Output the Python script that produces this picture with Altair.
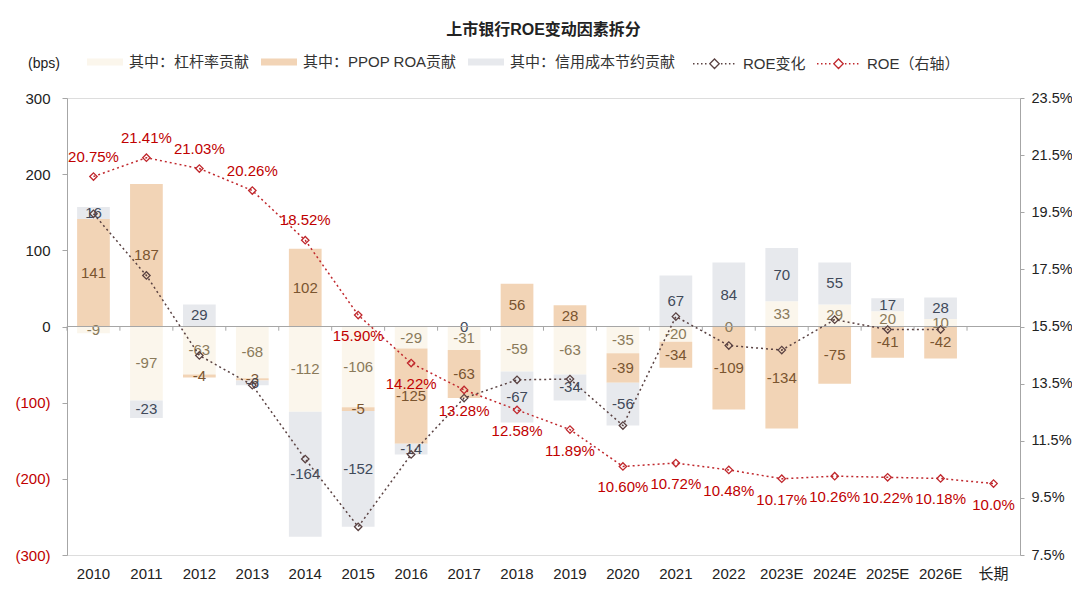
import altair as alt
import pandas as pd

FONT = "Liberation Sans, Noto Sans CJK SC"

cats = ['2010', '2011', '2012', '2013', '2014', '2015', '2016', '2017', '2018',
        '2019', '2020', '2021', '2022', '2023E', '2024E', '2025E', '2026E', '长期']
bar_cats = cats[:17]

series_names = ['其中：杠杆率贡献', '其中：PPOP ROA贡献', '其中：信用成本节约贡献']
line_names = ['ROE变化', 'ROE（右轴）']

lev = [-9, -97, -63, -68, -112, -106, -29, -31, -59, -63, -35, -20, 0, 33, 29, 20, 10]
ppop = [141, 187, -4, -3, 102, -5, -125, -63, 56, 28, -39, -34, -109, -134, -75, -41, -42]
credit = [16, -23, 29, -6, -164, -152, -14, 0, -67, -34, -56, 67, 84, 70, 55, 17, 28]
roe_chg = [148, 67, -38, -77, -174, -263, -168, -94, -70, -69, -130, 13, -25, -31, 9, -4, -4]
roe = [20.75, 21.41, 21.03, 20.26, 18.52, 15.90, 14.22, 13.28, 12.58, 11.89, 10.60,
       10.72, 10.48, 10.17, 10.26, 10.22, 10.18, 10.0]
roe_labels = ['20.75%', '21.41%', '21.03%', '20.26%', '18.52%', '15.90%', '14.22%',
              '13.28%', '12.58%', '11.89%', '10.60%', '10.72%', '10.48%', '10.17%',
              '10.26%', '10.22%', '10.18%', '10.0%']
left_ticks = [-300, -200, -100, 0, 100, 200, 300]
right_ticks = [7.5, 9.5, 11.5, 13.5, 15.5, 17.5, 19.5, 21.5, 23.5]

bar_colors = ['#FBF6EC', '#F2D4B6', '#E7E9ED']
label_colors = ['#8A7A5A', '#7A5530', '#414A5A']
chg_color = '#5A4242'
red = '#C0282D'

rows = []
for i, c in enumerate(bar_cats):
    for k, arr in enumerate([lev, ppop, credit]):
        rows.append({'cat': c, 'series': series_names[k], 'value': arr[i], 'ord': k})
bars_df = pd.DataFrame(rows)
chg_df = pd.DataFrame({'cat': bar_cats, 'chg': roe_chg, 'series': line_names[0]})
roe_df = pd.DataFrame({'cat': cats, 'roe': roe, 'label': roe_labels, 'series': line_names[1]})
cat_df = pd.DataFrame({'cat': cats})
zero_df = pd.DataFrame({'z': [0]})

x_scale = alt.Scale(domain=cats, paddingInner=0.382, paddingOuter=0.191)
x_axis = alt.Axis(title=None, labelAngle=0, domain=False, ticks=False, tickSize=0,
                  labelPadding=11, labelFontSize=15, labelColor='#222', labelFont=FONT)
x_enc = alt.X('cat:N', scale=x_scale, axis=x_axis)

yl_scale = alt.Scale(domain=[-300, 300], nice=False, zero=False)
yl_axis = alt.Axis(values=left_ticks,
                   labelExpr="datum.value < 0 ? '(' + abs(datum.value) + ')' : datum.label",
                   labelColor={'condition': {'test': 'datum.value < 0', 'value': '#C00000'},
                               'value': '#222222'},
                   grid=False, domainColor='#A6A6A6', tickColor='#A6A6A6', tickSize=5,
                   labelPadding=12, labelFontSize=15, labelFont=FONT,
                   title='(bps)', titleAngle=0, titleX=-23.5, titleY=-35,
                   titleAlign='center', titleBaseline='middle', titleFontSize=14,
                   titleFontWeight='normal', titleColor='#222', titleFont=FONT)

yr_scale = alt.Scale(domain=[7.5, 23.5], nice=False, zero=False)
yr_axis = alt.Axis(orient='right', values=right_ticks,
                   labelExpr="format(datum.value, '.1f') + '%'",
                   grid=False, domainColor='#A6A6A6', tickColor='#A6A6A6', tickSize=4,
                   labelPadding=7, labelFontSize=14.5, labelColor='#222', labelFont=FONT,
                   title=None)

bar_path = 'M-1,-0.2L1,-0.2L1,0.2L-1,0.2Z'
dots_left = ''.join('M%.3f,0L%.3f,0' % (s, s + 0.07) for s in [-1.0, -0.814, -0.628, -0.442])
dots_right = ''.join('M%.3f,0L%.3f,0' % (s, s + 0.07) for s in [0.30, 0.486, 0.672, 0.858])
line_path = dots_left + 'M-0.22,0L0,-0.22L0.22,0L0,0.22Z' + dots_right

fill_legend = alt.Legend(orient='none', legendX=20, legendY=-54, direction='horizontal',
                         title=None, symbolType=bar_path, symbolSize=1296,
                         symbolStrokeWidth=0, labelFontSize=15, labelFont=FONT,
                         labelColor='#333', labelOffset=6, columnPadding=11, labelLimit=400)
stroke_legend = alt.Legend(orient='none', legendX=625, legendY=-57, direction='horizontal',
                           title=None, symbolType=line_path, symbolSize=1849,
                           symbolStrokeWidth=1.3, labelFontSize=15, labelFont=FONT,
                           labelColor='#333', labelOffset=6, columnPadding=8, labelLimit=400)

stroke_enc = alt.Stroke('series:N', scale=alt.Scale(domain=line_names, range=[chg_color, red]),
                        legend=stroke_legend)

bars = alt.Chart(bars_df).mark_bar().encode(
    x=x_enc,
    y=alt.Y('value:Q', stack='zero', scale=yl_scale, axis=yl_axis),
    color=alt.Color('series:N', scale=alt.Scale(domain=series_names, range=bar_colors),
                    legend=fill_legend),
    order=alt.Order('ord:Q', sort='ascending'),
)

label_layers = []
for k, name in enumerate(series_names):
    lyr = alt.Chart(bars_df).transform_stack(
        stack='value', groupby=['cat'], as_=['v0', 'v1'],
        sort=[alt.SortField('ord', order='ascending')], offset='zero'
    ).transform_calculate(
        mid='(datum.v0 + datum.v1) / 2',
        lbl="'' + datum.value"
    ).transform_filter(
        alt.datum.series == name
    ).mark_text(fontSize=15, font=FONT, color=label_colors[k], baseline='middle').encode(
        x=x_enc,
        y=alt.Y('mid:Q', scale=yl_scale, axis=yl_axis),
        text=alt.Text('lbl:N'),
    )
    label_layers.append(lyr)

zero_rule = alt.Chart(zero_df).mark_rule(color='#A6A6A6', strokeWidth=1).encode(
    y=alt.Y('z:Q', scale=yl_scale, axis=yl_axis)
)

cat_ticks = alt.Chart(cat_df).mark_rule(color='#A6A6A6', strokeWidth=1, xOffset=-26.5).encode(
    x=x_enc,
    y=alt.YDatum(0, type='quantitative', scale=yl_scale, axis=yl_axis),
    y2=alt.Y2Datum(-5.5),
)

chg_line = alt.Chart(chg_df).mark_line(strokeDash=[2, 3], strokeWidth=1.5).encode(
    x=x_enc, y=alt.Y('chg:Q', scale=yl_scale, axis=yl_axis), stroke=stroke_enc)
chg_pts = alt.Chart(chg_df).mark_point(shape='diamond', filled=False, size=55,
                                       strokeWidth=1.3, color=chg_color, opacity=1).encode(
    x=x_enc, y=alt.Y('chg:Q', scale=yl_scale, axis=yl_axis))

left = alt.layer(bars, *label_layers, zero_rule, cat_ticks, chg_line, chg_pts)

roe_line = alt.Chart(roe_df).mark_line(strokeDash=[2, 3], strokeWidth=1.5).encode(
    x=x_enc, y=alt.Y('roe:Q', scale=yr_scale, axis=yr_axis), stroke=stroke_enc)
roe_pts = alt.Chart(roe_df).mark_point(shape='diamond', filled=False, size=55,
                                       strokeWidth=1.3, color=red, opacity=1).encode(
    x=x_enc, y=alt.Y('roe:Q', scale=yr_scale, axis=yr_axis))
above_cats = cats[:5]
roe_lab_above = alt.Chart(roe_df).transform_filter(
    alt.FieldOneOfPredicate(field='cat', oneOf=above_cats)
).mark_text(fontSize=15, font=FONT, color='#C00000', dy=-20, baseline='middle').encode(
    x=x_enc, y=alt.Y('roe:Q', scale=yr_scale, axis=yr_axis), text='label:N')
roe_lab_below = alt.Chart(roe_df).transform_filter(
    ~alt.FieldOneOfPredicate(field='cat', oneOf=above_cats)
).mark_text(fontSize=15, font=FONT, color='#C00000', dy=21, baseline='middle').encode(
    x=x_enc, y=alt.Y('roe:Q', scale=yr_scale, axis=yr_axis), text='label:N')

right = alt.layer(roe_line, roe_pts, roe_lab_above, roe_lab_below)

chart = alt.layer(left, right).resolve_scale(y='independent').properties(
    width=953, height=457,
    padding={'left': 59, 'top': 90, 'right': 52, 'bottom': 45},
    autosize=alt.AutoSizeParams(type='none'),
    title=alt.Title('上市银行ROE变动因素拆分', fontSize=16, fontWeight='bold',
                    font=FONT, color='#222', anchor='middle', offset=3),
).configure_view(stroke=None).configure(font=FONT)

chart.save('out.html', embed_options={'renderer': 'svg', 'actions': False})
